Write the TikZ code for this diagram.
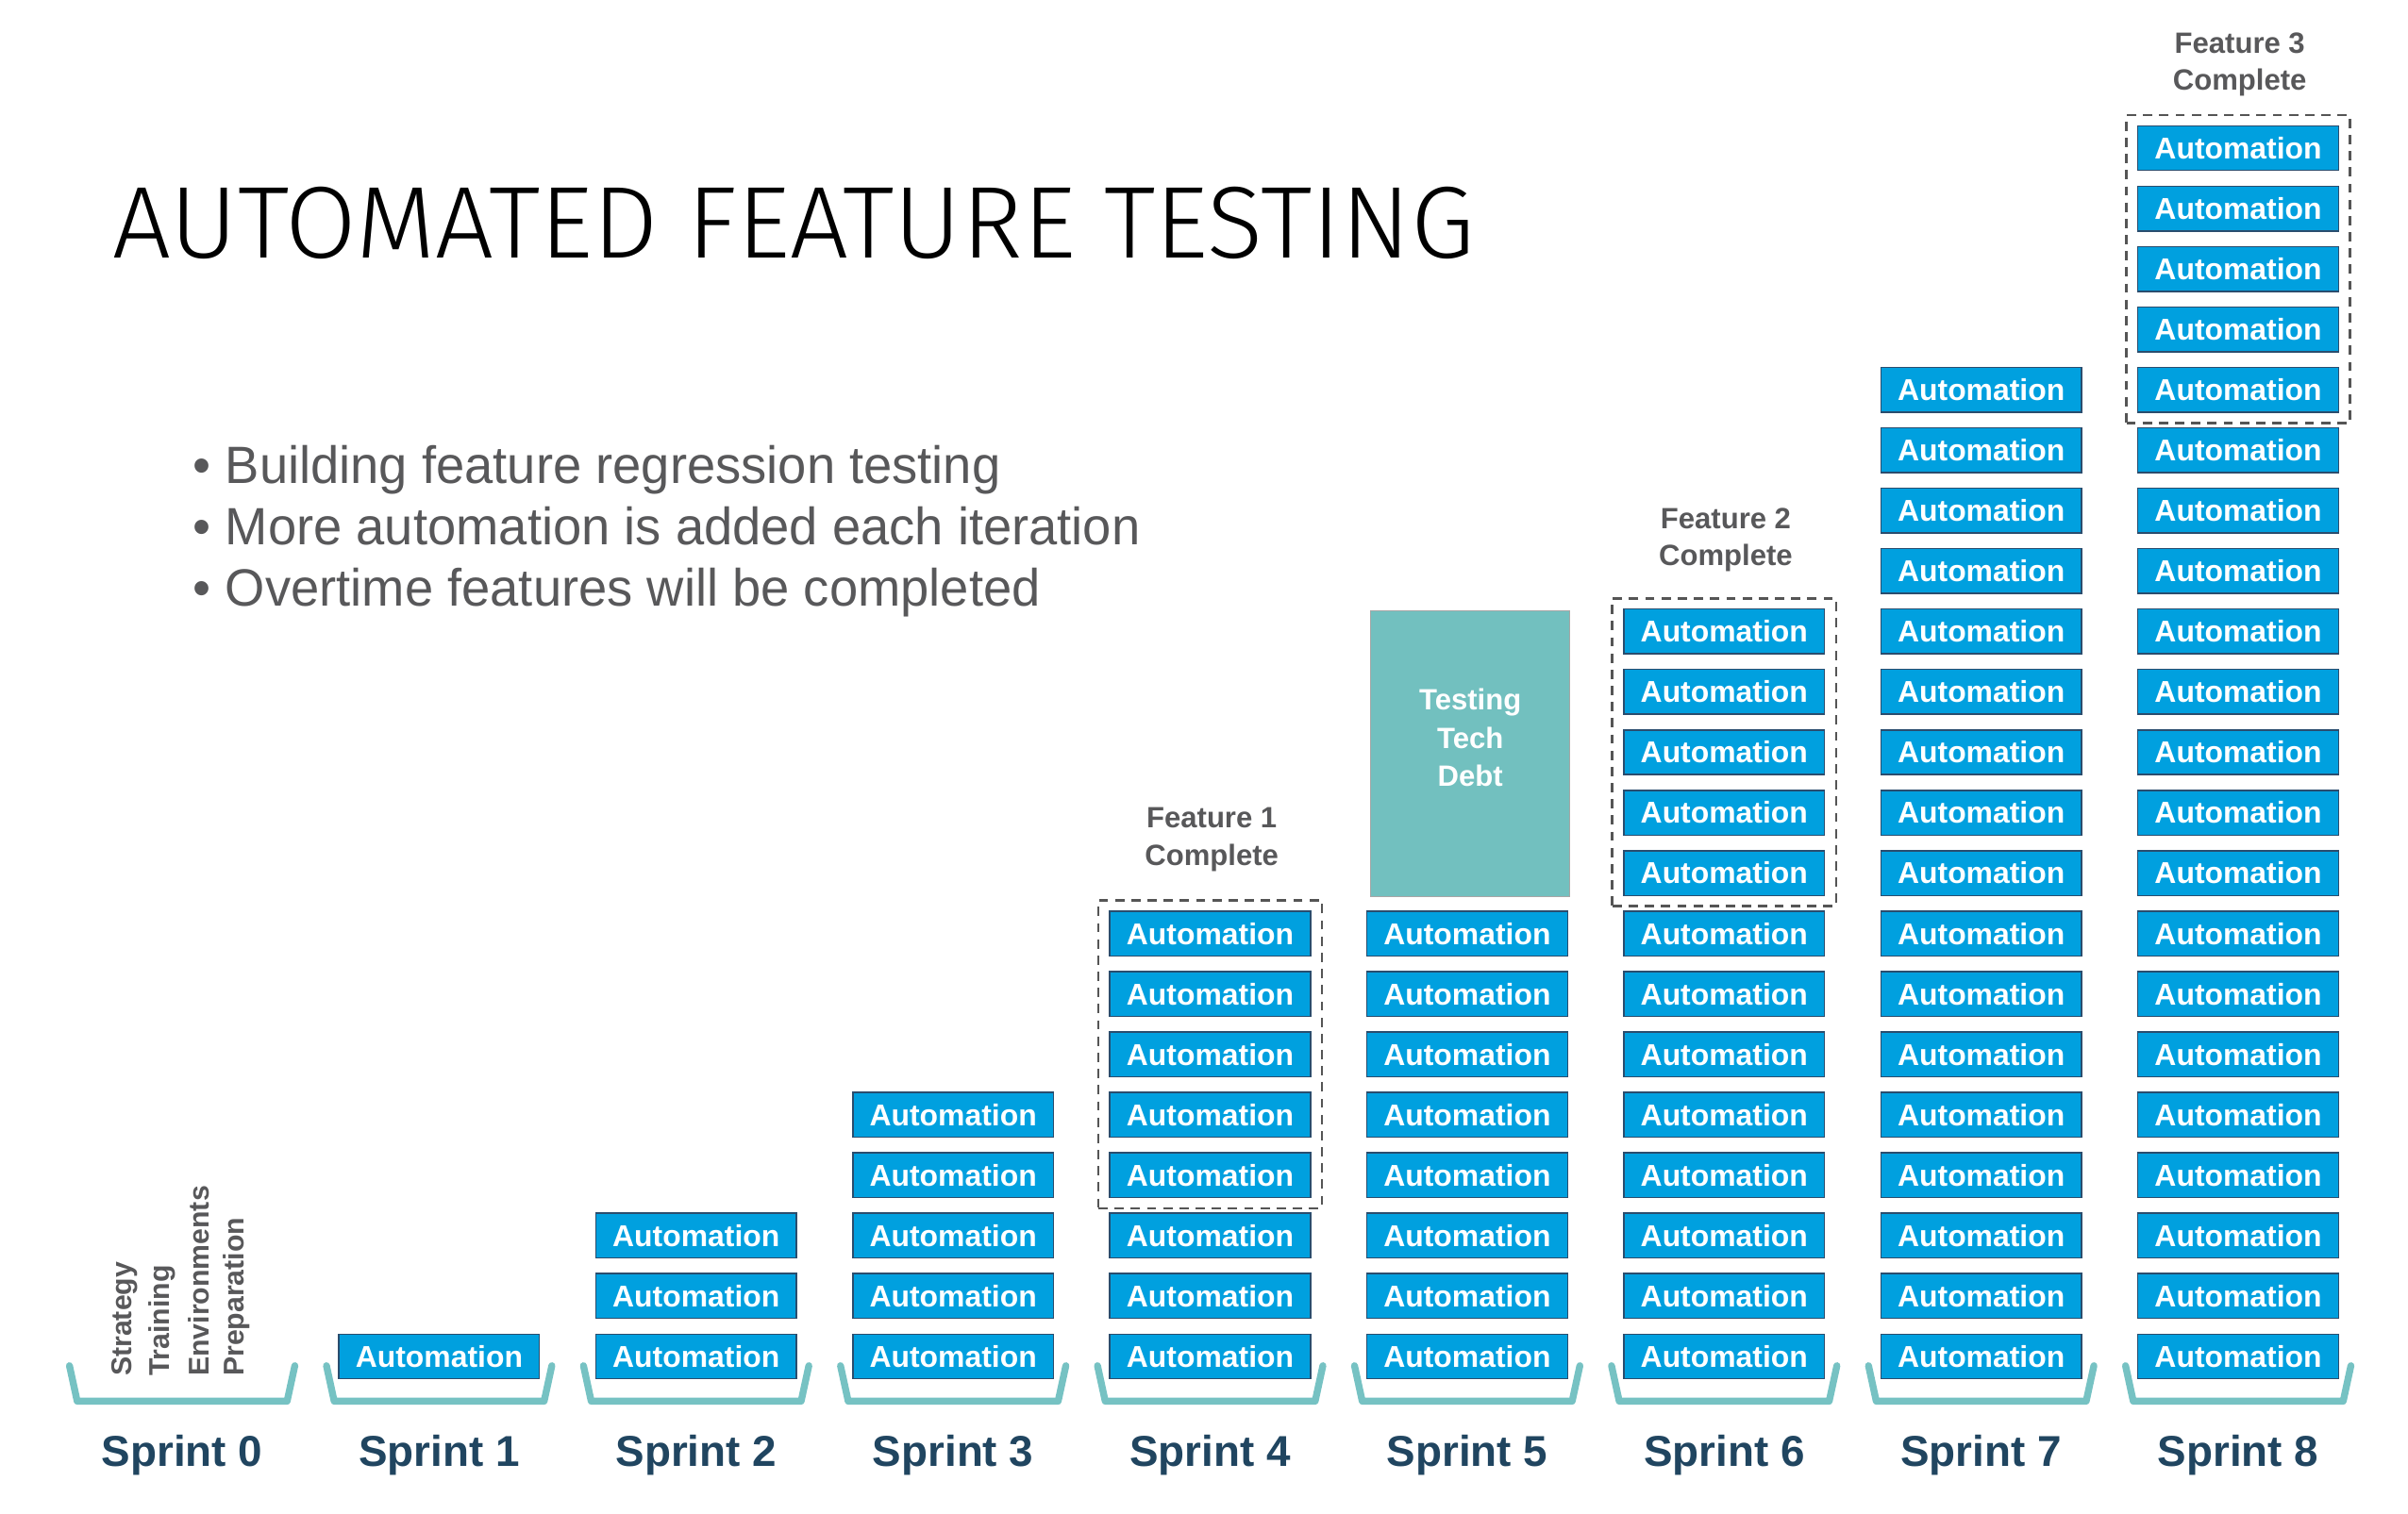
\documentclass[tikz,border=0pt]{standalone}
\usepackage{fontspec}
\usepackage{graphicx}
\setmainfont{Liberation Sans}
\newfontfamily\titlefont{Fira Sans Light}
\usetikzlibrary{fit}
\definecolor{autoblue}{HTML}{00A0DF}
\definecolor{boxline}{HTML}{2A4D6E}
\definecolor{debtteal}{HTML}{72C0BF}
\definecolor{brackteal}{HTML}{76C2C3}
\definecolor{sprintnavy}{HTML}{204560}
\definecolor{txtgray}{HTML}{58585A}
\definecolor{dashgray}{HTML}{555555}
\begin{document}
\begin{tikzpicture}[x=1pt,y=-1pt,
  abox/.style={draw=boxline, line width=0.9pt, fill=autoblue, text=white,
    minimum width=130pt, minimum height=29pt, inner sep=0pt,
    font=\fontsize{19.5}{20}\selectfont\bfseries},
  dashbox/.style={draw=dashgray, line width=1.6pt, dash pattern=on 6pt off 4.5pt,
    inner xsep=7pt, inner ysep=6.5pt},
  debtbox/.style={draw=gray!70, line width=0.8pt, fill=debtteal,
    minimum width=129pt, minimum height=185pt, inner sep=0pt},
  debttext/.style={text=white, align=center, inner sep=0pt,
    font=\fontsize{19}{24.5}\selectfont\bfseries},
  featlbl/.style={text=txtgray, align=center, inner sep=0pt,
    font=\fontsize{19}{24}\selectfont\bfseries},
  rotlbl/.style={text=txtgray, rotate=90, anchor=west, inner sep=0pt,
    font=\fontsize{18.5}{20}\selectfont\bfseries},
  sprintlbl/.style={text=sprintnavy, anchor=base, inner sep=0pt,
    font=\fontsize{28}{30}\selectfont\bfseries},
  bullet/.style={text=txtgray, anchor=base west, inner sep=0pt,
    font=\fontsize{34}{40}\selectfont},
  bracket/.style={draw=brackteal, line width=4.5pt, line cap=round, line join=round}
]
\useasboundingbox (0,0) rectangle (1560,981);

% title
\node[anchor=south west, inner sep=0pt] (title) at (73,168)
  {\resizebox{882pt}{46pt}{\titlefont AUTOMATED FEATURE TESTING}};

% bullets
\node[bullet] (bl1) at (125,313) {\scalebox{0.977}[1]{• Building feature regression testing}};
\node[bullet] (bl2) at (125,353) {\scalebox{0.977}[1]{• More automation is added each iteration}};
\node[bullet] (bl3) at (125,393) {\scalebox{0.977}[1]{• Overtime features will be completed}};

% brackets and sprint labels
\foreach \k in {0,...,8}{
  \pgfmathsetmacro{\cx}{118+166.5*\k}
  \draw[bracket] (\cx-73,885) -- (\cx-68,908) -- (\cx+68,908) -- (\cx+73,885);
  \node[sprintlbl] (s\k) at (\cx,950) {Sprint \k};
}

% sprint 0 preparation labels
\node[rotlbl] (r1) at (81,892) {Strategy};
\node[rotlbl] (r2) at (105,892) {Training};
\node[rotlbl] (r3) at (129,892) {Environments};
\node[rotlbl] (r4) at (153,892) {Preparation};

% automation boxes
\foreach \k/\n in {1/1,2/3,3/5,4/8,5/8,6/13,7/17,8/21}{
  \foreach \i in {1,...,\n}{
    \node[abox] (b\k-\i) at ({118+166.5*\k},{879-39.15*(\i-1)}) {Automation};
  }
}

% testing tech debt
\node[debtbox] (td) at (952.5,488.5) {};
\node[debttext] (tdt) at (952.5,478) {Testing\\Tech\\Debt};

% feature complete groups
\node[dashbox, fit=(b4-4)(b4-8)] (f1) {};
\node[dashbox, fit=(b6-9)(b6-13)] (f2) {};
\node[dashbox, fit=(b8-17)(b8-21)] (f3) {};
\node[featlbl] (fl1) at (785,544) {Feature 1\\Complete};
\node[featlbl] (fl2) at (1118,350) {Feature 2\\Complete};
\node[featlbl] (fl3) at (1451,42) {Feature 3\\Complete};
\end{tikzpicture}
\end{document}
